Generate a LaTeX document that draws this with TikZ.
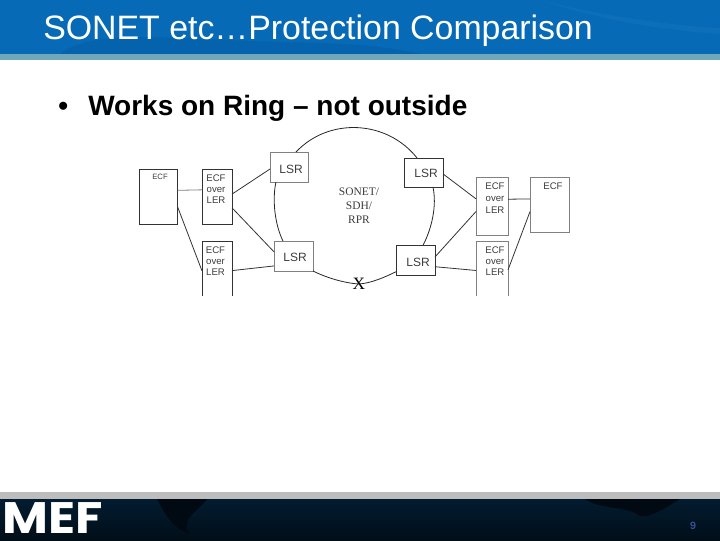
\documentclass[tikz,border=0pt]{standalone}
\usepackage{fontspec}
\usepackage{graphicx}
\setmainfont{Liberation Sans}
\newfontfamily\serifface{Liberation Serif}
\newfontfamily\logoface{Poppins}
\definecolor{hdrblue}{RGB}{6,106,182}
\definecolor{hdrdark}{RGB}{4,94,164}
\definecolor{hdrlight}{RGB}{40,128,196}
\definecolor{stripe}{RGB}{112,168,186}
\definecolor{footgray}{RGB}{189,189,189}
\definecolor{footnavy}{RGB}{2,28,48}
\definecolor{footdeep}{RGB}{1,14,24}
\definecolor{footland}{RGB}{1,10,18}
\definecolor{pagenum}{RGB}{58,80,150}
\definecolor{soft}{RGB}{60,60,60}
\tikzset{
  x=.75pt,y=-.75pt,
  boxnode/.style={inner sep=0pt,outer sep=0pt,line width=.75pt},
  solidbox/.style={boxnode,draw=black!80},
  palebox/.style={boxnode,draw=black!50},
  openbox/.style={boxnode},
  boxtext/.style={inner sep=0pt,text=soft,font=\fontsize{7.2pt}{8pt}\selectfont},
  lsrtext/.style={inner sep=0pt,text=soft,font=\fontsize{9pt}{10pt}\selectfont},
  link/.style={line width=.6pt,draw=black!80},
  palelink/.style={line width=.6pt,draw=black!50},
  ringlink/.style={line width=.6pt,draw=black!85},
}
\begin{document}
\begin{tikzpicture}
\useasboundingbox (0,0) rectangle (720,540);
% header
\fill[hdrblue] (0,0) rectangle (720,54);
\fill[hdrdark,opacity=.55] (60,54) .. controls (90,30) and (160,38) .. (230,40) .. controls (300,44) and (360,40) .. (420,54) -- cycle;
\fill[hdrlight,opacity=.22] (540,0) .. controls (610,18) and (680,26) .. (720,28) -- (720,34) .. controls (660,30) and (600,20) .. (540,0) -- cycle;
\fill[stripe] (0,54) rectangle (720,60);
% footer
\fill[footgray] (0,492) rectangle (720,499);
\shade[top color=footnavy,bottom color=footdeep] (0,499) rectangle (720,540);
\fill[footland] (157,499) .. controls (165,515) and (175,530) .. (190,534) .. controls (178,520) and (200,510) .. (207,499) -- cycle;
\fill[footland] (585,499) .. controls (600,510) and (625,505) .. (640,516) .. controls (650,518) and (665,508) .. (680,499) -- cycle;
\node[inner sep=0pt,text=white] (logo) at (53,518) {\scalebox{1.34}[1.18]{\logoface\bfseries\fontsize{28pt}{30pt}\selectfont MEF}};
\node[inner sep=0pt,text=pagenum,font=\bfseries\fontsize{8pt}{9pt}\selectfont] (page) at (693,526) {9};
% title and bullet
\node[anchor=base west,inner sep=0pt,text=white,font=\fontsize{25.4pt}{28pt}\selectfont] (title) at (43,39) {SONET etc…Protection Comparison};
\node[anchor=base west,inner sep=0pt,font=\bfseries\fontsize{21pt}{24pt}\selectfont] (bullet) at (58,115) {•};
\node[anchor=base west,inner sep=0pt,font=\bfseries\fontsize{21pt}{24pt}\selectfont] (body) at (88,115) {Works on Ring – not outside};
% boxes
\node[solidbox,minimum width=38*.75pt,minimum height=55*.75pt] (ecfL) at (158.5,196.5) {};
\node[solidbox,minimum width=30*.75pt,minimum height=55*.75pt] (lerA) at (217,196.5) {};
\node[openbox,minimum width=30*.75pt,minimum height=55*.75pt] (lerB) at (217,268.5) {};
\node[palebox,minimum width=38*.75pt,minimum height=30*.75pt] (lsrTL) at (289,167) {};
\node[palebox,minimum width=39*.75pt,minimum height=30*.75pt] (lsrBL) at (293.5,256) {};
\node[solidbox,minimum width=39*.75pt,minimum height=29*.75pt] (lsrTR) at (423.5,172.5) {};
\node[solidbox,minimum width=39*.75pt,minimum height=30*.75pt] (lsrBR) at (415.5,260) {};
\node[palebox,minimum width=32*.75pt,minimum height=58*.75pt] (lerC) at (492,206) {};
\node[openbox,minimum width=32*.75pt,minimum height=55*.75pt] (lerD) at (492,268.5) {};
\node[palebox,minimum width=39*.75pt,minimum height=55*.75pt] (ecfR) at (549.5,204.5) {};
\draw[line width=.75pt,draw=black!80] (lerB.south west) -- (lerB.north west) -- (lerB.north east) -- (lerB.south east);
\draw[line width=.75pt,draw=black!50] (lerD.south west) -- (lerD.north west) -- (lerD.north east) -- (lerD.south east);
% box texts
\node[boxtext,font=\fontsize{5.8pt}{7pt}\selectfont] (t1) at (160,177) {ECF};
\node[boxtext] (t2) at (216,178) {ECF};
\node[boxtext] (t3) at (216,190) {over};
\node[boxtext] (t4) at (216,200.5) {LER};
\node[boxtext] (t5) at (215.5,250) {ECF};
\node[boxtext] (t6) at (215.5,261.5) {over};
\node[boxtext] (t7) at (215.5,272.5) {LER};
\node[boxtext] (t8) at (495,186.5) {ECF};
\node[boxtext] (t9) at (495,198.5) {over};
\node[boxtext] (t10) at (495,210) {LER};
\node[boxtext] (t11) at (495,250) {ECF};
\node[boxtext] (t12) at (495,261.5) {over};
\node[boxtext] (t13) at (495,272.5) {LER};
\node[boxtext] (t14) at (553,186) {ECF};
\node[lsrtext] (s1) at (291,169) {LSR};
\node[lsrtext] (s2) at (295,257.5) {LSR};
\node[lsrtext] (s3) at (426,173) {LSR};
\node[lsrtext] (s4) at (418,262) {LSR};
\node[inner sep=0pt,text=soft,align=center,font=\serifface\fontsize{8.6pt}{10.6pt}\selectfont] (ring) at (359,206) {SONET/\\SDH/\\RPR};
\node[inner sep=0pt,font=\serifface\fontsize{13pt}{14pt}\selectfont] (cut) at (359,284) {X};
% ring
\draw[ringlink] (lsrTL.65) .. controls (329,117) and (387,120) .. (lsrTR.114);
\draw[ringlink] (lsrTL.229) .. controls (272,200) and (275,225) .. (lsrBL.125);
\draw[ringlink] (lsrTR.-57.6) .. controls (437,205) and (432,228) .. (lsrBR.63);
\draw[ringlink] (lsrBL.south east) .. controls (325,277) and (343,283) .. (cut.center);
\draw[ringlink] (cut.center) .. controls (372,283) and (385,277) .. (lsrBR.211);
% access links
\draw[palelink] (ecfL.18.9) -- (lerA.156.6);
\draw[link] (ecfL.-28) -- (lerB.189.5);
\draw[link] (lerA.9.5) -- (lsrTL.186);
\draw[link] (lerA.-37.5) -- (lsrBL.168);
\draw[link] (lerB.-8.3) -- (lsrBL.207.7);
\draw[link] (lsrTR.-4.5) -- (lerC.156.4);
\draw[link] (lsrBR.9.6) -- (lerC.199.6);
\draw[link] (lsrBR.-19) -- (lerD.187.8);
\draw[link] (lerC.23.6) -- (ecfR.164);
\draw[link] (lerD.-5.4) -- (ecfR.200);
\end{tikzpicture}
\end{document}
